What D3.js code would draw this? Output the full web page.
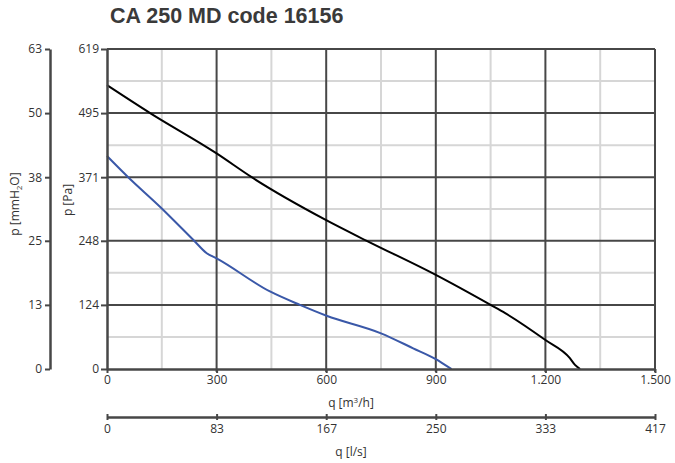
<!DOCTYPE html>
<html><head><meta charset="utf-8">
<script src="https://cdn.jsdelivr.net/npm/d3@7/dist/d3.min.js"></script>
<style>body{margin:0;background:#fff}svg{display:block}</style>
</head><body>
<svg id="c" width="675" height="463"></svg>
<script>
const title = "CA 250 MD code 16156";
const paTicks = [0, 124, 248, 371, 495, 619];
const mmTickLabels = ["0", "13", "25", "38", "50", "63"];
const qTicks = [0, 300, 600, 900, 1200, 1500];
const qTickLabels = ["0", "300", "600", "900", "1.200", "1.500"];
const lsTickLabels = ["0", "83", "167", "250", "333", "417"];
// black curve (q m3/h, p Pa)
const blackQ = [0, 118, 300, 396, 600, 711, 900, 1050, 1090, 1200, 1267, 1281, 1295];
const blackP = [549, 495, 417, 371, 288, 248, 182, 124, 108, 56, 21, 8, 0];
// blue curve
const blueQ = [0, 58, 145, 236, 273, 300, 446, 528, 601, 750, 838, 900, 925, 943];
const blueP = [412, 371, 314, 250, 224, 214, 150, 124, 103, 69, 40, 19, 8, 0];

const svg = d3.select("#c");
const L = 107, R = 655, T = 49, B = 369;
const x = d3.scaleLinear().domain([0, 1500]).range([L, R]);
const y = d3.scaleLinear().domain([0, 619]).range([B, T]);
const dark = "#474747", light = "#d6d6d6", txt = "#333";
const font = "'Open Sans', sans-serif";

// minor grid
const minorQ = [150, 450, 750, 1050, 1350];
const minorP = d3.range(5).map(i => (paTicks[i] + paTicks[i + 1]) / 2);
svg.append("g").selectAll("line").data(minorQ).join("line")
  .attr("x1", d => x(d)).attr("x2", d => x(d)).attr("y1", T).attr("y2", B)
  .attr("stroke", light).attr("stroke-width", 2);
svg.append("g").selectAll("line").data(minorP).join("line")
  .attr("x1", L).attr("x2", R).attr("y1", d => y(d)).attr("y2", d => y(d))
  .attr("stroke", light).attr("stroke-width", 2);
// major grid
svg.append("g").selectAll("line").data(qTicks.slice(1)).join("line")
  .attr("x1", d => x(d)).attr("x2", d => x(d)).attr("y1", T).attr("y2", B + 3)
  .attr("stroke", dark).attr("stroke-width", 2);
svg.append("g").selectAll("line").data(paTicks.slice(1)).join("line")
  .attr("x1", L).attr("x2", R).attr("y1", d => y(d)).attr("y2", d => y(d))
  .attr("stroke", dark).attr("stroke-width", 2);

// curves
const line = d3.line().x(d => x(d[0])).y(d => y(d[1])).curve(d3.curveMonotoneX);
svg.append("path").datum(blueQ.map((q, i) => [q, blueP[i]])).attr("d", line)
  .attr("fill", "none").attr("stroke", "#3a58a8").attr("stroke-width", 2);
svg.append("path").datum(blackQ.map((q, i) => [q, blackP[i]])).attr("d", line)
  .attr("fill", "none").attr("stroke", "#000").attr("stroke-width", 2);

function styleAxis(g) {
  g.selectAll(".domain").attr("stroke", dark).attr("stroke-width", 2.5);
  g.selectAll(".tick line").attr("stroke", dark).attr("stroke-width", 2);
  g.selectAll(".tick text").attr("fill", txt).style("font-family", font).style("font-size", "12px");
}
// Pa axis
const gPa = svg.append("g").attr("transform", `translate(${L},0)`)
  .call(d3.axisLeft(y).tickValues(paTicks).tickSize(6).tickSizeOuter(0).tickPadding(2).tickFormat(d3.format("d")));
styleAxis(gPa);
// mmH2O axis
const gMm = svg.append("g").attr("transform", `translate(50,0)`)
  .call(d3.axisLeft(y).tickValues(paTicks).tickSize(5).tickSizeOuter(0).tickPadding(3).tickFormat((d, i) => mmTickLabels[i]));
styleAxis(gMm);
// q m3/h axis
const gQ = svg.append("g").attr("transform", `translate(0,${B})`)
  .call(d3.axisBottom(x).tickValues(qTicks).tickSize(4).tickSizeOuter(0).tickPadding(2).tickFormat((d, i) => qTickLabels[i]));
styleAxis(gQ);
// q l/s axis
const gL = svg.append("g").attr("transform", `translate(0,417)`)
  .call(d3.axisBottom(x).tickValues(qTicks).tickSize(3).tickSizeOuter(0).tickPadding(4).tickFormat((d, i) => lsTickLabels[i]));
styleAxis(gL);
gL.selectAll(".tick line").attr("y1", -3).attr("y2", 3);

// labels
svg.append("text").attr("x", 110).attr("y", 23).text(title)
  .attr("fill", "#3a3a3a").style("font-family", "'Liberation Sans', Arial, sans-serif")
  .style("font-weight", "bold").style("font-size", "21.5px");
const lab = (t, xx, yy, rot) => svg.append("text")
  .attr("transform", `translate(${xx},${yy})` + (rot ? " rotate(-90)" : ""))
  .attr("text-anchor", "middle").attr("fill", txt)
  .style("font-family", font).style("font-size", "12px").text(t);
const t1 = lab("", 351, 407, false);
t1.append("tspan").text("q [m");
t1.append("tspan").text("3").attr("dy", -4).style("font-size", "8px");
t1.append("tspan").text("/h]").attr("dy", 4);
lab("q [l/s]", 351, 456, false);
lab("p [Pa]", 72, 200, true);
const t2 = lab("", 19, 204, true);
t2.append("tspan").text("p [mmH");
t2.append("tspan").text("2").attr("dy", 3).style("font-size", "8px");
t2.append("tspan").text("O]").attr("dy", -3);
</script>
</body></html>
